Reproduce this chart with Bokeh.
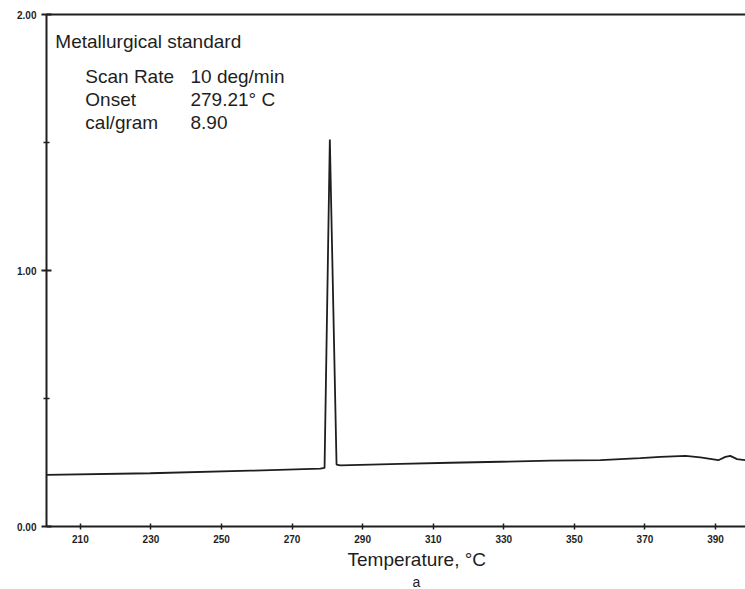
from bokeh.plotting import figure
from bokeh.models import Range1d, LinearAxis, FixedTicker, Label, Title
from bokeh.embed import file_html
from bokeh.resources import INLINE

# Data
temperature = [200.4, 229.8, 258.2, 278.0, 279.2, 280.7, 282.6, 283.7, 300.7, 314.9,
               329.0, 343.2, 357.4, 368.7, 374.4, 381.5, 385.7, 390.8, 392.8, 394.2,
               396.1, 398.5]
heat_flow = [0.202, 0.208, 0.218, 0.226, 0.229, 1.512, 0.242, 0.239, 0.245, 0.249,
             0.253, 0.257, 0.259, 0.267, 0.272, 0.276, 0.270, 0.259, 0.272, 0.276,
             0.263, 0.259]

x_ticks = [210, 230, 250, 270, 290, 310, 330, 350, 370, 390]
y_major = [0.0, 1.0, 2.0]
y_minor = [0.5, 1.5]
y_tick_labels = {0.0: "0.00", 1.0: "1.00", 2.0: "2.00"}

title_line = "Metallurgical standard"
info_keys = ["Scan Rate", "Onset", "cal/gram"]
info_vals = ["10 deg/min", "279.21\u00b0 C", "8.90"]
x_label = "Temperature, \u00b0C"
panel_tag = "a"

FONT = "Liberation Sans"
INK = "#1e1e1e"

p = figure(width=745, height=589, output_backend="svg", toolbar_location=None,
           x_range=Range1d(200.4, 398.5), y_range=Range1d(0, 2.0),
           min_border_left=46, min_border_right=0, min_border_top=14,
           min_border_bottom=0, x_axis_location=None, y_axis_location=None)
p.outline_line_color = None
p.grid.visible = False
p.background_fill_color = "white"
p.border_fill_color = "white"

p.line(temperature, heat_flow, line_color=INK, line_width=1.8)

# left axis
ya = LinearAxis(ticker=FixedTicker(ticks=y_major, minor_ticks=y_minor))
ya.major_label_overrides = y_tick_labels
ya.axis_line_width = 2
ya.axis_line_color = INK
ya.major_tick_in = 5
ya.major_tick_out = 5
ya.major_tick_line_width = 2
ya.major_tick_line_color = INK
ya.minor_tick_in = 3
ya.minor_tick_out = 3
ya.minor_tick_line_width = 1.5
ya.minor_tick_line_color = INK
ya.major_label_standoff = 5
ya.major_label_text_font = FONT
ya.major_label_text_font_style = "bold"
ya.major_label_text_font_size = "10px"
ya.major_label_text_color = INK
p.add_layout(ya, "left")

# bottom axis
xa = LinearAxis(ticker=FixedTicker(ticks=x_ticks, minor_ticks=[]))
xa.axis_line_width = 2
xa.axis_line_color = INK
xa.major_tick_in = 3
xa.major_tick_out = 3
xa.major_tick_line_width = 1.5
xa.major_tick_line_color = INK
xa.major_label_standoff = 5
xa.major_label_text_font = FONT
xa.major_label_text_font_style = "bold"
xa.major_label_text_font_size = "10px"
xa.major_label_text_color = INK
p.add_layout(xa, "below")

# axis title and panel tag below the axis
t1 = Title(text=x_label, align="left", offset=301, standoff=3,
           text_font=FONT, text_font_size="19px", text_font_style="normal",
           text_color=INK)
p.add_layout(t1, "below")
t2 = Title(text=panel_tag, align="left", offset=366, standoff=0,
           text_font=FONT, text_font_size="14px", text_font_style="normal",
           text_color=INK)
p.add_layout(t2, "below")

# top frame line
ta = LinearAxis(ticker=FixedTicker(ticks=[], minor_ticks=[]))
ta.axis_line_width = 2
ta.axis_line_color = INK
ta.major_tick_line_color = None
ta.minor_tick_line_color = None
p.add_layout(ta, "above")

# annotation block
def lab(x, y, text, size="19px"):
    p.add_layout(Label(x=x, y=y, text=text, text_font=FONT, text_font_size=size,
                       text_color=INK, text_baseline="alphabetic", text_align="left"))

lab(202.9, 1.895, title_line)
rows_y = [1.758, 1.668, 1.578]
for k, v, yy in zip(info_keys, info_vals, rows_y):
    lab(211.4, yy, k)
    lab(241.2, yy, v)

open("out.html", "w").write(file_html(p, INLINE))
